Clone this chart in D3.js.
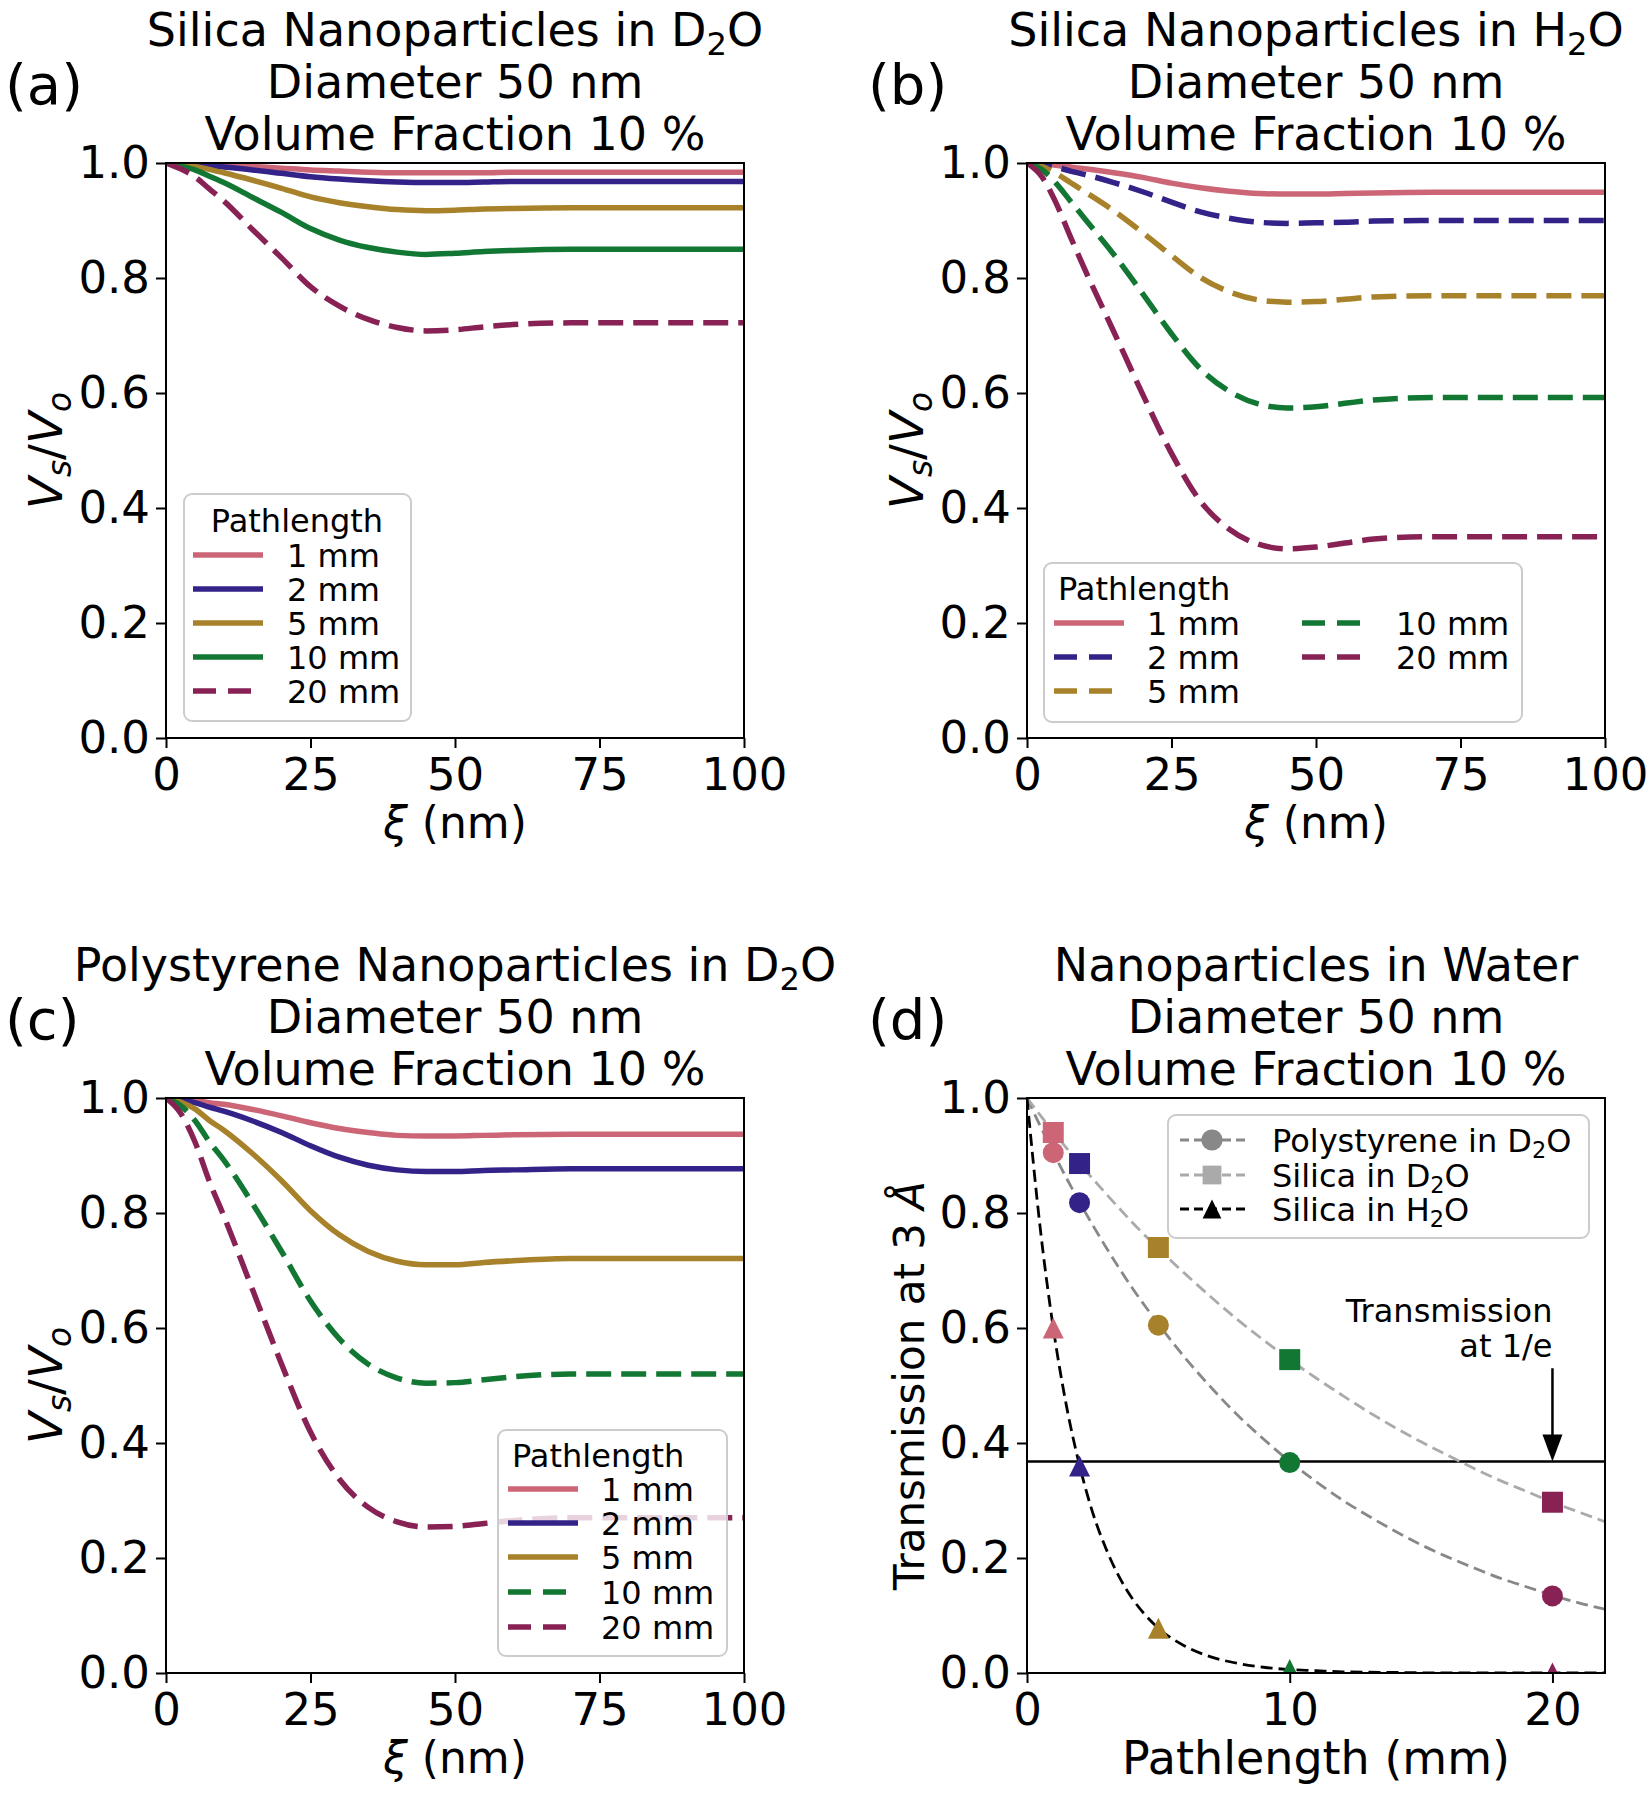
<!DOCTYPE html>
<html><head><meta charset="utf-8">
<script src="https://cdn.jsdelivr.net/npm/d3@7"></script>
<style>body{margin:0;background:#fff} svg{display:block} text{font-family:'DejaVu Sans',sans-serif;fill:#000}</style>
</head><body><svg id="c" width="1652" height="1800"></svg>
<script>
// ---------- DATA ----------
const xi = [0, 2.5, 5, 7.5, 10, 15, 20, 25, 30, 35, 40, 45, 50, 55, 60, 70, 100];
const pathLabels = ["1 mm", "2 mm", "5 mm", "10 mm", "20 mm"];
const pathColors = ["#CC6677", "#332288", "#A8822A", "#117733", "#882255"];

// (a) Silica in D2O
const a1  = [1.000, 1.000, 0.999, 0.998, 0.997, 0.994, 0.991, 0.988, 0.986, 0.984, 0.983, 0.983, 0.983, 0.983, 0.984, 0.984, 0.984];
const a2  = [1.000, 0.999, 0.998, 0.995, 0.993, 0.988, 0.982, 0.976, 0.972, 0.969, 0.967, 0.966, 0.966, 0.967, 0.968, 0.968, 0.968];
const a5  = [1.000, 0.998, 0.994, 0.989, 0.983, 0.970, 0.956, 0.941, 0.931, 0.924, 0.919, 0.917, 0.918, 0.920, 0.921, 0.922, 0.922];
const a10 = [1.000, 0.995, 0.988, 0.977, 0.966, 0.940, 0.914, 0.886, 0.866, 0.853, 0.845, 0.841, 0.843, 0.846, 0.848, 0.850, 0.850];
const a20 = [1.000, 0.990, 0.976, 0.955, 0.934, 0.884, 0.835, 0.785, 0.751, 0.728, 0.714, 0.708, 0.710, 0.715, 0.719, 0.722, 0.722];
// (b) Silica in H2O
const b1  = [1.000, 0.999, 0.996, 0.993, 0.990, 0.983, 0.975, 0.965, 0.957, 0.951, 0.947, 0.946, 0.946, 0.947, 0.948, 0.949, 0.949];
const b2  = [1.000, 0.998, 0.993, 0.986, 0.980, 0.966, 0.950, 0.932, 0.915, 0.904, 0.897, 0.895, 0.896, 0.897, 0.899, 0.900, 0.900];
const b5  = [1.000, 0.994, 0.982, 0.966, 0.950, 0.917, 0.879, 0.839, 0.801, 0.776, 0.762, 0.758, 0.759, 0.763, 0.767, 0.769, 0.769];
const b10 = [1.000, 0.989, 0.965, 0.934, 0.903, 0.841, 0.773, 0.703, 0.642, 0.603, 0.581, 0.574, 0.576, 0.582, 0.588, 0.592, 0.592];
const b20 = [1.000, 0.977, 0.931, 0.872, 0.815, 0.707, 0.598, 0.495, 0.412, 0.363, 0.337, 0.329, 0.332, 0.339, 0.346, 0.350, 0.350];
// (c) Polystyrene in D2O
const c1  = [1.000, 0.999, 0.996, 0.992, 0.989, 0.980, 0.969, 0.957, 0.947, 0.940, 0.935, 0.934, 0.934, 0.935, 0.936, 0.937, 0.937];
const c2  = [1.000, 0.997, 0.992, 0.984, 0.977, 0.960, 0.940, 0.917, 0.897, 0.883, 0.875, 0.872, 0.872, 0.874, 0.875, 0.877, 0.877];
const c5  = [1.000, 0.993, 0.981, 0.961, 0.944, 0.903, 0.856, 0.804, 0.762, 0.733, 0.716, 0.710, 0.710, 0.714, 0.717, 0.721, 0.721];
const c10 = [1.000, 0.987, 0.961, 0.924, 0.892, 0.816, 0.733, 0.647, 0.581, 0.537, 0.513, 0.504, 0.505, 0.510, 0.515, 0.520, 0.520];
const c20 = [1.000, 0.974, 0.924, 0.855, 0.795, 0.666, 0.537, 0.419, 0.337, 0.288, 0.263, 0.254, 0.255, 0.260, 0.265, 0.270, 0.270];

// (d) transmission
const pathMm = [1, 2, 5, 10, 20];
const tPsD2O = [0.905, 0.818, 0.605, 0.366, 0.134];
const tSiD2O = [0.940, 0.886, 0.740, 0.545, 0.297];
const tSiH2O = [0.600, 0.360, 0.078, 0.006, 0.000];
const fitX = [0,1,2,3,4,5,6,7,8,9,10,11,12,13,14,15,16,17,18,19,20,21,22];
const fitPsD2O = [1,0.905,0.819,0.741,0.670,0.607,0.549,0.497,0.449,0.407,0.368,0.333,0.301,0.273,0.247,0.223,0.202,0.183,0.165,0.150,0.135,0.122,0.111];
const fitSiD2O = [1,0.941,0.886,0.834,0.784,0.738,0.695,0.654,0.615,0.579,0.545,0.513,0.483,0.454,0.427,0.402,0.379,0.356,0.335,0.316,0.297,0.280,0.263];
const fitXH = [0,0.5,1,1.5,2,2.5,3,3.5,4,4.5,5,6,7,8,9,10,11,12,14,16,18,20,22];
const fitSiH2O = [1,0.775,0.600,0.465,0.361,0.279,0.217,0.168,0.130,0.101,0.078,0.047,0.028,0.017,0.010,0.006,0.004,0.002,0.001,0,0,0,0];
const invE = 0.368;

const yTicks = [0, 0.2, 0.4, 0.6, 0.8, 1.0];
const xTicksXi = [0, 25, 50, 75, 100];
const xTicksPath = [0, 10, 20];

// ---------- LAYOUT ----------
const svg = d3.select('#c');
const W = 578, H = 575;
const FS_T = 46, FS_TICK = 45, FS_LAB = 45, FS_LEG = 32;
const LW = 5.5;
const DASH = "25,10";

function rich(sel, segs, fs) {
  let shifted = 0;
  segs.forEach(s => {
    const t = sel.append('tspan').text(s.t);
    const shift = s.sub ? Math.round(fs * 0.2) : 0;
    if (shift !== shifted) { t.attr('dy', shift - shifted); shifted = shift; }
    if (s.sub) t.attr('font-size', fs * 0.7);
    if (s.it) t.attr('font-style', 'italic');
  });
}

const titleCommon = [[{t:'Diameter 50 nm'}], [{t:'Volume Fraction 10 %'}]];

const panels = [
  {key:'(a)', left:166, top:163, labX:5,
   title:[[{t:'Silica Nanoparticles in D'},{t:'2',sub:true},{t:'O'}]],
   series:[a1,a2,a5,a10,a20], dashed:[0,0,0,0,1],
   leg:{x:184,y:494,w:227,h:227,titleX:297,titleAnchor:'middle',titleY:532,
        rows:[[0,193,287,555],[1,193,287,589],[2,193,287,623],[3,193,287,657],[4,193,287,691]]}},
  {key:'(b)', left:1027, top:163, labX:868,
   title:[[{t:'Silica Nanoparticles in H'},{t:'2',sub:true},{t:'O'}]],
   series:[b1,b2,b5,b10,b20], dashed:[0,1,1,1,1],
   leg:{x:1044,y:563,w:478,h:159,titleX:1058,titleAnchor:'start',titleY:600,
        rows:[[0,1054,1147,623],[1,1054,1147,657],[2,1054,1147,691],[3,1302,1396,623],[4,1302,1396,657]]}},
  {key:'(c)', left:166, top:1098, labX:5,
   title:[[{t:'Polystyrene Nanoparticles in D'},{t:'2',sub:true},{t:'O'}]],
   series:[c1,c2,c5,c10,c20], dashed:[0,0,0,1,1],
   leg:{x:498,y:1430,w:229,h:226,titleX:512,titleAnchor:'start',titleY:1467,
        rows:[[0,508,601,1489],[1,508,601,1523],[2,508,601,1557],[3,508,601,1592],[4,508,601,1627]]}},
];

function drawTitle(cx, top, lines, key, labX) {
  lines.forEach((segs, i) => {
    const t = svg.append('text').attr('x', cx).attr('y', top - 13 - (lines.length - 1 - i) * 52)
      .attr('text-anchor', 'middle').attr('font-size', FS_T);
    rich(t, segs, FS_T);
  });
  svg.append('text').attr('x', labX).attr('y', top - 59).attr('font-size', 56).text(key);
}

function drawAxes(g, x, y, xTicks) {
  const ax = g.append('g').attr('transform', `translate(0,${H})`)
    .call(d3.axisBottom(x).tickValues(xTicks).tickSize(10).tickPadding(10).tickFormat(d3.format('d')));
  const ay = g.append('g')
    .call(d3.axisLeft(y).tickValues(yTicks).tickSize(10).tickPadding(6).tickFormat(d3.format('.1f')));
  [ax, ay].forEach(a => {
    a.select('.domain').remove();
    a.selectAll('line').attr('stroke', '#000').attr('stroke-width', 2);
    a.selectAll('text').attr('font-size', FS_TICK).attr('font-family', "'DejaVu Sans',sans-serif").attr('fill', '#000');
  });
  g.append('rect').attr('width', W).attr('height', H).attr('fill', 'none').attr('stroke', '#000').attr('stroke-width', 2);
}

function legendBox(g, L) {
  g.append('rect').attr('x', L.x).attr('y', L.y).attr('width', L.w).attr('height', L.h).attr('rx', 8)
    .attr('fill', '#fff').attr('fill-opacity', 0.8).attr('stroke', '#cccccc').attr('stroke-width', 2);
}

panels.forEach((p, pi) => {
  const g = svg.append('g').attr('transform', `translate(${p.left},${p.top})`);
  const x = d3.scaleLinear([0, 100], [0, W]);
  const y = d3.scaleLinear([0, 1], [H, 0]);
  const cid = 'clip' + pi;
  g.append('clipPath').attr('id', cid).append('rect').attr('width', W).attr('height', H);
  const line = d3.line().x((d, i) => x(xi[i])).y(d => y(d)).curve(d3.curveMonotoneX);
  const plot = g.append('g').attr('clip-path', `url(#${cid})`);
  p.series.forEach((s, k) => {
    plot.append('path').attr('d', line(s)).attr('fill', 'none').attr('stroke', pathColors[k])
      .attr('stroke-width', LW).attr('stroke-dasharray', p.dashed[k] ? DASH : null);
  });
  drawAxes(g, x, y, xTicksXi);
  drawTitle(p.left + W / 2, p.top, [p.title[0], ...titleCommon], p.key, p.labX);
  // axis labels
  const xl = svg.append('text').attr('x', p.left + W / 2).attr('y', p.top + H + 100)
    .attr('text-anchor', 'middle').attr('font-size', 44);
  rich(xl, [{t:'ξ', it:true}, {t:' (nm)'}], 44);
  const yl = svg.append('text').attr('transform', `translate(${p.left - 104},${p.top + H / 2}) rotate(-90)`)
    .attr('text-anchor', 'middle').attr('font-size', 47);
  rich(yl, [{t:'V', it:true}, {t:'s', it:true, sub:true}, {t:'/'}, {t:'V', it:true}, {t:'o', it:true, sub:true}], 47);
  // legend
  const L = p.leg;
  const lg = svg.append('g');
  legendBox(lg, L);
  lg.append('text').attr('x', L.titleX).attr('y', L.titleY).attr('text-anchor', L.titleAnchor)
    .attr('font-size', FS_LEG).text('Pathlength');
  L.rows.forEach(([k, lx, tx, ry]) => {
    lg.append('line').attr('x1', lx).attr('x2', lx + 70).attr('y1', ry).attr('y2', ry)
      .attr('stroke', pathColors[k]).attr('stroke-width', LW).attr('stroke-dasharray', p.dashed[k] ? "23,12" : null);
    lg.append('text').attr('x', tx).attr('y', ry + 12).attr('font-size', FS_LEG).text(pathLabels[k]);
  });
});

// ---------- PANEL (d) ----------
(function () {
  const left = 1027, top = 1098;
  const g = svg.append('g').attr('transform', `translate(${left},${top})`);
  const x = d3.scaleLinear([0, 22], [0, W]);
  const y = d3.scaleLinear([0, 1], [H, 0]);
  g.append('clipPath').attr('id', 'clipd').append('rect').attr('width', W).attr('height', H);
  const plot = g.append('g').attr('clip-path', 'url(#clipd)');
  const ln = (xs) => d3.line().x((d, i) => x(xs[i])).y(d => y(d)).curve(d3.curveMonotoneX);
  plot.append('line').attr('x1', 0).attr('x2', W).attr('y1', y(invE)).attr('y2', y(invE))
    .attr('stroke', '#000').attr('stroke-width', 2.5);
  plot.append('path').attr('d', ln(fitX)(fitPsD2O)).attr('fill', 'none').attr('stroke', '#888888')
    .attr('stroke-width', 2.8).attr('stroke-dasharray', '12,6');
  plot.append('path').attr('d', ln(fitX)(fitSiD2O)).attr('fill', 'none').attr('stroke', '#aaaaaa')
    .attr('stroke-width', 2.8).attr('stroke-dasharray', '12,6');
  plot.append('path').attr('d', ln(fitXH)(fitSiH2O)).attr('fill', 'none').attr('stroke', '#000')
    .attr('stroke-width', 2.8).attr('stroke-dasharray', '12,6');
  const tri = { draw(ctx, size) { const r = Math.sqrt(size) / 2; ctx.moveTo(0, -r); ctx.lineTo(r, r); ctx.lineTo(-r, r); ctx.closePath(); } };
  const sq = { draw(ctx, size) { const r = Math.sqrt(size) / 2; ctx.rect(-r, -r, 2 * r, 2 * r); } };
  const MS = 21 * 21;
  const symCircle = d3.symbol(d3.symbolCircle, Math.PI * 10.5 * 10.5);
  const symSq = d3.symbol(sq, MS);
  const symTri = d3.symbol(tri, MS);
  const groups = [[tSiH2O, symTri], [tSiD2O, symSq], [tPsD2O, symCircle]];
  groups.forEach(([vals, sym]) => {
    plot.selectAll(null).data(vals).enter().append('path')
      .attr('transform', (d, i) => `translate(${x(pathMm[i])},${y(d)})`)
      .attr('d', sym()).attr('fill', (d, i) => pathColors[i]);
  });
  drawAxes(g, x, y, xTicksPath);
  // arrow + annotation
  const ax = x(20), yTail = y(0.53), yTip = y(invE);
  g.append('line').attr('x1', ax).attr('x2', ax).attr('y1', yTail).attr('y2', yTip - 24)
    .attr('stroke', '#000').attr('stroke-width', 2.5);
  g.append('path').attr('d', `M${ax},${yTip} L${ax - 10},${yTip - 27} L${ax + 10},${yTip - 27} Z`).attr('fill', '#000');
  g.append('text').attr('x', ax).attr('y', y(0.63) + 11).attr('text-anchor', 'end').attr('font-size', 32).text('Transmission');
  g.append('text').attr('x', ax).attr('y', y(0.63) + 46).attr('text-anchor', 'end').attr('font-size', 32).text('at 1/e');

  drawTitle(left + W / 2, top, [[{t:'Nanoparticles in Water'}], ...titleCommon], '(d)', 868);
  svg.append('text').attr('x', left + W / 2).attr('y', top + H + 101).attr('text-anchor', 'middle')
    .attr('font-size', 46).text('Pathlength (mm)');
  const yl = svg.append('text').attr('transform', `translate(${left - 103},${top + H / 2}) rotate(-90)`)
    .attr('text-anchor', 'middle').attr('font-size', 42);
  rich(yl, [{t:'Transmission at 3 '}, {t:'Å', it:true}], 42);

  // legend
  const lg = svg.append('g');
  legendBox(lg, {x:1168, y:1115, w:421, h:123});
  const items = [
    {segs:[{t:'Polystyrene in D'},{t:'2',sub:true},{t:'O'}], c:'#888888', sym:symCircle},
    {segs:[{t:'Silica in D'},{t:'2',sub:true},{t:'O'}], c:'#aaaaaa', sym:symSq},
    {segs:[{t:'Silica in H'},{t:'2',sub:true},{t:'O'}], c:'#000000', sym:symTri},
  ];
  const rowsY = [1140, 1175, 1209];
  items.forEach((it, i) => {
    const ry = rowsY[i];
    lg.append('line').attr('x1', 1180).attr('x2', 1245).attr('y1', ry).attr('y2', ry)
      .attr('stroke', it.c).attr('stroke-width', 2.8).attr('stroke-dasharray', '9,5');
    lg.append('path').attr('transform', `translate(1212,${ry})`).attr('d', it.sym.size(MS * 0.8)()).attr('fill', it.c);
    const t = lg.append('text').attr('x', 1272).attr('y', ry + 12).attr('font-size', FS_LEG);
    rich(t, it.segs, FS_LEG);
  });
})();
</script></body></html>
